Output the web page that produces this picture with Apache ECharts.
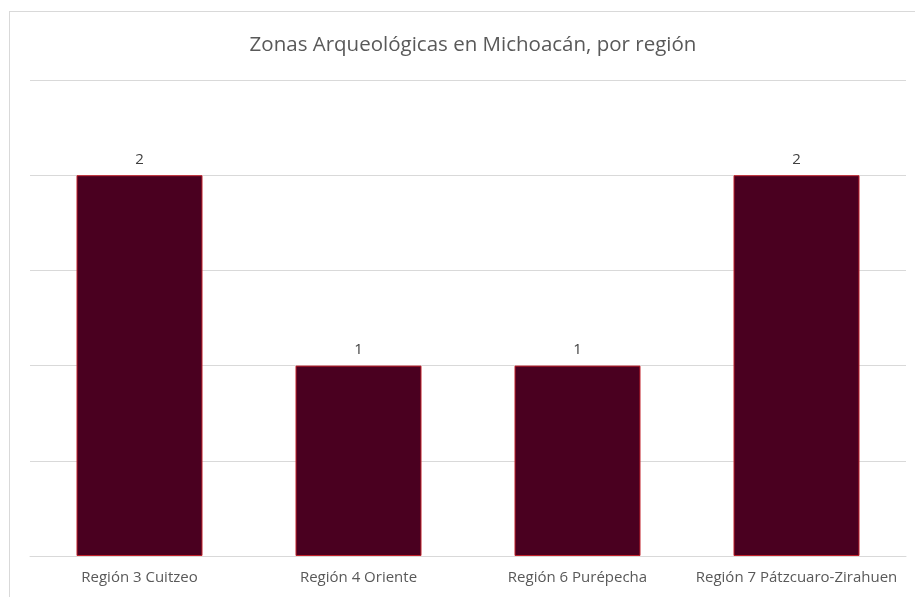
<!DOCTYPE html>
<html>
<head>
<meta charset="utf-8">
<script src="https://cdn.jsdelivr.net/npm/echarts@6/dist/echarts.min.js"></script>
<style>
  html, body { margin: 0; padding: 0; background: #fff; }
  #frame { position: absolute; left: 9px; top: 11px; width: 1000px; height: 700px; border: 1px solid #d9d9d9; box-sizing: border-box; }
  #chart { position: absolute; left: 0; top: 0; width: 915px; height: 597px; }
</style>
</head>
<body>
<div id="frame"></div>
<div id="chart"></div>
<script>
// datos del gráfico
const categorias = ['Región 3 Cuitzeo', 'Región 4 Oriente', 'Región 6 Purépecha', 'Región 7 Pátzcuaro-Zirahuen'];
const zonas = [2, 1, 1, 2];

let myChart = echarts.init(document.getElementById('chart'));
let option = {
  title: {
    text: 'Zonas Arqueológicas en Michoacán, por región',
    left: 468,
    textAlign: 'center',
    top: 30,
    textStyle: { fontFamily: 'Open Sans', fontSize: 20.5, fontWeight: 'normal', color: '#595959' }
  },
  grid: { left: 30, right: 9, top: 80, bottom: 41, containLabel: false },
  xAxis: {
    type: 'category',
    data: categorias,
    axisLine: { lineStyle: { color: '#d9d9d9' } },
    axisTick: { show: false },
    axisLabel: { interval: 0, fontFamily: 'Open Sans', fontSize: 15, color: '#595959', margin: 14 }
  },
  yAxis: {
    type: 'value',
    min: 0,
    max: 2.5,
    interval: 0.5,
    axisLabel: { show: false },
    axisLine: { show: false },
    axisTick: { show: false },
    splitLine: { lineStyle: { color: '#d9d9d9' } }
  },
  series: [{
    type: 'bar',
    data: zonas,
    barWidth: 126,
    itemStyle: { color: '#4a0020', borderColor: '#c0202a', borderWidth: 1 },
    label: { show: true, position: 'top', distance: 8, fontFamily: 'Open Sans', fontSize: 15, color: '#404040' }
  }]
};
option && myChart.setOption(option);
</script>
</body>
</html>
